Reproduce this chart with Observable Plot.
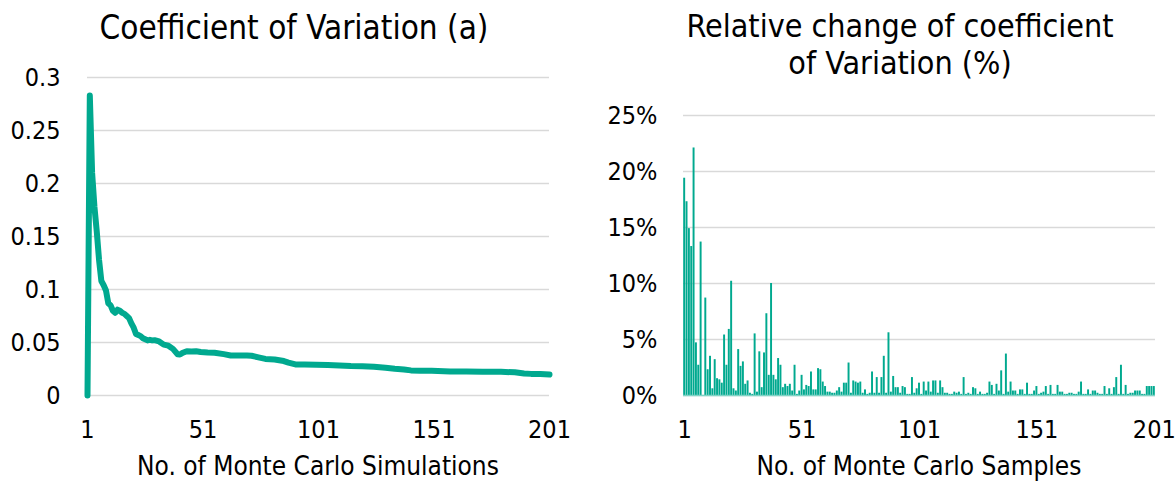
<!DOCTYPE html>
<html><head><meta charset="utf-8">
<script src="https://cdn.jsdelivr.net/npm/d3@7"></script>
<script src="https://cdn.jsdelivr.net/npm/@observablehq/plot@0.6"></script>
<style>
html,body{margin:0;padding:0;background:#fff;}
#fig{position:relative;width:1175px;height:483px;overflow:hidden;font-family:"DejaVu Sans Condensed","DejaVu Sans",sans-serif;font-stretch:condensed;color:#000;}
#fig svg{position:absolute;top:0;}
.t{position:absolute;transform:translate(-50%,-50%);white-space:nowrap;text-align:center;line-height:37px;}
</style></head><body>
<div id="fig"></div>
<script>
// ---- Left panel: coefficient of variation ----
const simN = [1,2,3,4,5,6,7,8,9,10,11,12,13,14,15,16,17,18,19,20,21,22,23,24,25,26,27,28,29,30,32,34,36,38,40,41,42,44,46,48,50,53,56,60,63,66,70,72,75,78,82,86,88,91,95,100,105,110,115,120,125,130,134,138,141,145,150,158,165,172,180,186,190,193,197,201];
const cvValue = [0,0.283,0.21,0.178,0.155,0.128,0.108,0.104,0.099,0.087,0.085,0.080,0.078,0.081,0.080,0.078,0.077,0.075,0.073,0.068,0.064,0.058,0.057,0.056,0.054,0.053,0.052,0.0525,0.052,0.0522,0.051,0.048,0.047,0.044,0.039,0.0387,0.040,0.0418,0.0415,0.0418,0.041,0.0405,0.0404,0.039,0.0378,0.0378,0.0378,0.0375,0.036,0.0345,0.034,0.0325,0.031,0.0293,0.0292,0.029,0.0288,0.0283,0.0278,0.0277,0.0272,0.0262,0.0252,0.0246,0.0237,0.0234,0.0233,0.0227,0.0226,0.0224,0.0223,0.0219,0.0208,0.0204,0.0203,0.0198];
const cvTicks = [0,0.05,0.1,0.15,0.2,0.25,0.3];
const xTicks = [1,51,101,151,201];

// ---- Right panel: relative change of CV, % per sample ----
const relChangePct = [
 19.4,17.3,14.9,13.3,22.1,4.7,2.7,13.7,0,8.7,
 2.3,3.5,0.6,3.2,1.5,1.4,1.1,5.4,2.7,5.9,
 10.2,0.6,0.4,4.1,2.6,3.0,1.0,1.3,0.2,0.1,
 5.5,0.3,3.9,0.7,3.8,7.3,1.8,10.0,1.8,1.4,
 3.3,2.7,0.7,1.0,0.8,1.0,0.4,2.7,0.1,0.4,
 1.8,0.5,0.9,0.8,2.1,0.5,0.5,2.4,2.3,1.2,
 0.8,0.3,0.3,0.2,0.2,0.4,0.7,0.3,1.1,1.1,
 2.9,0.2,1.3,1.2,1.1,1.2,0.2,0.5,0.1,0.2,
 2.1,0.2,1.6,0.2,1.6,3.5,0.2,5.6,0.3,1.7,
 0.7,0.7,0.2,0.8,0.7,0.1,0.1,1.6,0.2,0.6,
 1.1,0.1,1.2,0.4,1.2,0.3,1.3,1.3,0.2,1.3,
 0.7,0.2,0.2,0.1,0.1,0.3,0.2,0.3,0.1,1.6,
 0.1,0.2,0.1,0.7,0.6,0.1,0.3,0.1,0.1,0.2,
 1.2,0.9,0.1,1.0,0.4,2.2,0.1,3.7,0.3,1.2,
 0.4,0.4,0.1,0.5,0.5,0.1,1.1,0.1,0.1,0.4,
 0.8,0.1,0.2,0.3,0.8,0.1,0.9,0.1,0.1,0.9,
 0.3,0.3,0.1,0.1,0.2,0.2,0.1,0.1,0.3,1.2,
 0.1,0.1,0.5,0.1,0.4,0.4,0.2,0.1,0.1,0.8,
 0.1,0.6,0.1,0.7,1.6,0.1,2.7,0.1,0.9,0.1,
 0.2,0.2,0.4,0.4,0.4,0.1,0.1,0.8,0.8,0.8,
 0.8];
const sampleN = relChangePct.map((_, i) => i + 1);
const relTicks = [0,0.05,0.1,0.15,0.2,0.25];

const teal = "#00A98F";
const grid = "#d9d9d9";
const font = '"DejaVu Sans Condensed","DejaVu Sans",sans-serif';

const fig = document.getElementById("fig");

const left = Plot.plot({
  width: 575, height: 483,
  marginLeft: 87, marginRight: 26, marginTop: 77, marginBottom: 88,
  style: {fontFamily: font, fontSize: "25px", color: "#000", background: "transparent", fontStretch: "condensed"},
  x: {domain: [1, 201]},
  y: {domain: [0, 0.3]},
  marks: [
    Plot.ruleY(cvTicks, {stroke: grid, strokeWidth: 1.6}),
    Plot.axisY({ticks: cvTicks, tickSize: 0, tickPadding: 27, tickFormat: d => String(d), label: null}),
    Plot.axisX({ticks: xTicks, tickSize: 0, tickPadding: 25, tickFormat: d => String(d), label: null}),
    Plot.line(simN.map((n, i) => ({n, v: cvValue[i]})), {x: "n", y: "v", stroke: teal, strokeWidth: 6, strokeLinejoin: "round", strokeLinecap: "round"})
  ]
});
left.style.left = "0px";
fig.appendChild(left);

const barData = sampleN.map((n, i) => ({n, v: relChangePct[i] / 100}));
const right = Plot.plot({
  width: 587, height: 483,
  marginLeft: 95, marginRight: 20, marginTop: 115, marginBottom: 88,
  style: {fontFamily: font, fontSize: "25px", color: "#000", background: "transparent", fontStretch: "condensed"},
  x: {domain: [0.5, 201.5]},
  y: {domain: [0, 0.25]},
  marks: [
    Plot.ruleY(relTicks, {stroke: grid, strokeWidth: 1.6}),
    Plot.axisY({ticks: relTicks, tickSize: 0, tickPadding: 26, tickFormat: d3.format(".0%"), label: null}),
    Plot.axisX({ticks: xTicks, tickSize: 0, tickPadding: 25, tickFormat: d => String(d), label: null}),
    Plot.rectY(barData, {x1: d => d.n - 0.5, x2: d => d.n + 0.5, y1: 0, y2: "v", fill: teal, insetLeft: 0.2, insetRight: 0.2}),
    Plot.ruleY([0], {stroke: "#7fd4c5", strokeWidth: 1.5})
  ]
});
right.style.left = "588px";
fig.appendChild(right);

function addText(txt, x, y, size) {
  const d = document.createElement("div");
  d.className = "t";
  d.innerHTML = txt;
  d.style.left = x + "px";
  d.style.top = y + "px";
  d.style.fontSize = size + "px";
  fig.appendChild(d);
}
addText("Coefficient of Variation (a)", 294, 27, 33);
addText("Relative change of coefficient<br>of Variation (%)", 900, 45, 32);
addText("No. of Monte Carlo Simulations", 318, 466, 26);
addText("No. of Monte Carlo Samples", 919, 466, 26);
</script>
</body></html>
